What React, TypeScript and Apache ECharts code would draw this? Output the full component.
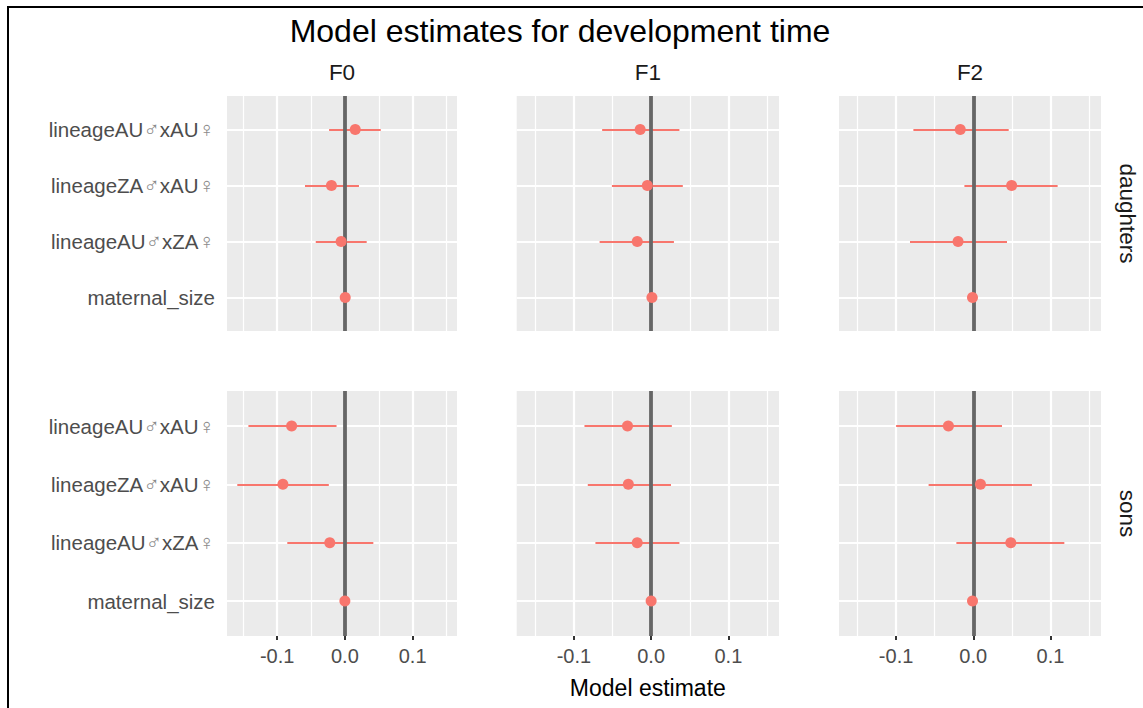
import React, { useEffect, useRef } from "react";
import * as echarts from "echarts";

// ---- data ----
const title = "Model estimates for development time";
const generations = ["F0", "F1", "F2"];
const sexes = ["daughters", "sons"];
const categories = ["lineageAU♂xAU♀", "lineageZA♂xAU♀", "lineageAU♂xZA♀", "maternal_size"]; // top to bottom
const xTicks = [-0.1, 0, 0.1];
const xMinorTicks = [-0.15, -0.05, 0.05, 0.15];
const xTitle = "Model estimate";

// estimates / lower / upper, order follows categories
const daughtersF0Est = [0.0153, -0.0198, -0.0055, 0.0005];
const daughtersF0Lo = [-0.0233, -0.0589, -0.043, 0.0];
const daughtersF0Hi = [0.053, 0.0208, 0.0322, 0.001];

const daughtersF1Est = [-0.0142, -0.0049, -0.018, 0.001];
const daughtersF1Lo = [-0.0634, -0.0508, -0.0667, 0.0];
const daughtersF1Hi = [0.0366, 0.041, 0.0295, 0.002];

const daughtersF2Est = [-0.0169, 0.0497, -0.0197, -0.001];
const daughtersF2Lo = [-0.0776, -0.0115, -0.082, -0.002];
const daughtersF2Hi = [0.0459, 0.1093, 0.0437, 0.0];

const sonsF0Est = [-0.0786, -0.0915, -0.0223, 0.0];
const sonsF0Lo = [-0.1424, -0.1588, -0.085, -0.001];
const sonsF0Hi = [-0.0123, -0.0237, 0.042, 0.001];

const sonsF1Est = [-0.0306, -0.0295, -0.018, 0.0];
const sonsF1Lo = [-0.0863, -0.082, -0.0721, -0.001];
const sonsF1Hi = [0.0268, 0.0257, 0.0366, 0.001];

const sonsF2Est = [-0.0322, 0.0093, 0.0486, -0.001];
const sonsF2Lo = [-0.1, -0.0579, -0.0219, -0.002];
const sonsF2Hi = [0.0372, 0.076, 0.118, 0.0];

const panels = [
  [daughtersF0Est, daughtersF0Lo, daughtersF0Hi],
  [daughtersF1Est, daughtersF1Lo, daughtersF1Hi],
  [daughtersF2Est, daughtersF2Lo, daughtersF2Hi],
  [sonsF0Est, sonsF0Lo, sonsF0Hi],
  [sonsF1Est, sonsF1Lo, sonsF1Hi],
  [sonsF2Est, sonsF2Lo, sonsF2Hi],
];

// ---- layout ----
const W = 1143;
const H = 708;
const colLeft = [227, 516.7, 839];
const colWidth = [230, 262.3, 262];
const rowTop = [96, 391];
const rowHeight = [235, 245];
const X_MIN = -0.174;
const X_MAX = 0.1655;

const FONT = "'Liberation Sans', Arial, sans-serif";
const POINT = "#F8766D";

const yPos = (i: number) => categories.length - i;

// wrap the sex symbols in a rich-text style of their own
const richLabel = (s: string) =>
  s
    .split(/([♂♀])/)
    .filter((p) => p.length > 0)
    .map((p) => (p === "♂" || p === "♀" ? `{s|${p}}` : `{a|${p}}`))
    .join("");

const baseMarkLine = {
  silent: true,
  symbol: ["none", "none"],
  label: { show: false },
  emphasis: { disabled: true },
  animation: false,
};

export default function App() {
  const ref = useRef<HTMLDivElement>(null);

  useEffect(() => {
    if (!ref.current) return;
    const chart = echarts.init(ref.current, undefined, { renderer: "svg" });

    const grid: any[] = [];
    const xAxis: any[] = [];
    const yAxis: any[] = [];
    const series: any[] = [];

    for (let r = 0; r < 2; r++) {
      for (let c = 0; c < 3; c++) {
        const k = r * 3 + c;
        grid.push({
          left: colLeft[c],
          top: rowTop[r],
          width: colWidth[c],
          height: rowHeight[r],
          show: true,
          backgroundColor: "#EBEBEB",
          borderWidth: 0,
        });
        const bottom = r === 1;
        xAxis.push({
          type: "value",
          gridIndex: k,
          min: X_MIN,
          max: X_MAX,
          axisLine: { show: false },
          splitLine: { show: false },
          axisTick: {
            show: bottom,
            customValues: xTicks,
            length: 4,
            lineStyle: { color: "#333333", width: 2 },
          },
          axisLabel: {
            show: bottom,
            customValues: xTicks,
            formatter: (v: number) => v.toFixed(1),
            fontSize: 20,
            color: "#4D4D4D",
            fontFamily: FONT,
            margin: 10,
          },
        });
        yAxis.push({
          type: "value",
          gridIndex: k,
          min: 0.4,
          max: 4.6,
          axisLine: { show: false },
          splitLine: { show: false },
          axisTick: { show: false },
          axisLabel: {
            show: c === 0,
            customValues: categories.map((_, i) => yPos(i)),
            formatter: (v: number) => {
              const idx = categories.length - Math.round(v);
              return richLabel(categories[idx] ?? "");
            },
            margin: 12,
            rich: {
              a: { fontSize: 20.5, color: "#4D4D4D", fontFamily: FONT },
              s: {
                fontSize: 22,
                color: "#8A8A8A",
                fontFamily: "'DejaVu Sans'",
                fontWeight: 200,
              },
            },
          },
        });

        const [est, lo, hi] = panels[k];

        // grid lines
        series.push({
          type: "line",
          xAxisIndex: k,
          yAxisIndex: k,
          data: [],
          z: 1,
          silent: true,
          markLine: {
            ...baseMarkLine,
            z: 1,
            data: [
              ...xMinorTicks.map((v) => ({ xAxis: v, lineStyle: { color: "#FFFFFF", width: 1.2, type: "solid" } })),
              ...xTicks.map((v) => ({ xAxis: v, lineStyle: { color: "#FFFFFF", width: 2.2, type: "solid" } })),
              ...categories.map((_, i) => ({ yAxis: yPos(i), lineStyle: { color: "#FFFFFF", width: 2.2, type: "solid" } })),
            ],
          },
        });

        // error bars
        series.push({
          type: "line",
          xAxisIndex: k,
          yAxisIndex: k,
          data: [],
          z: 2,
          silent: true,
          markLine: {
            ...baseMarkLine,
            z: 2,
            lineStyle: { color: POINT, width: 2, type: "solid" },
            data: categories.map((_, i) => [
              { coord: [lo[i], yPos(i)] },
              { coord: [hi[i], yPos(i)] },
            ]),
          },
        });

        // zero line
        series.push({
          type: "line",
          xAxisIndex: k,
          yAxisIndex: k,
          data: [],
          z: 3,
          silent: true,
          markLine: {
            ...baseMarkLine,
            z: 3,
            data: [{ xAxis: 0, lineStyle: { color: "#666666", width: 3.8, type: "solid" } }],
          },
        });

        // points
        series.push({
          type: "scatter",
          xAxisIndex: k,
          yAxisIndex: k,
          z: 10,
          symbol: "circle",
          symbolSize: 11,
          itemStyle: { color: POINT, opacity: 1 },
          data: categories.map((_, i) => [est[i], yPos(i)]),
        });
      }
    }

    const graphic: any[] = [
      {
        type: "rect",
        shape: { x: 8, y: 7, width: 1300, height: 900 },
        style: { fill: "none", stroke: "#000000", lineWidth: 2 },
        silent: true,
      },
      {
        type: "text",
        x: 560,
        y: 31,
        style: {
          text: title,
          fontSize: 32,
          fontFamily: FONT,
          fill: "#000000",
          align: "center",
          verticalAlign: "middle",
        },
      },
      ...generations.map((g, c) => ({
        type: "text",
        x: colLeft[c] + colWidth[c] / 2,
        y: 72,
        style: {
          text: g,
          fontSize: 22.5,
          fontFamily: FONT,
          fill: "#1A1A1A",
          align: "center",
          verticalAlign: "middle",
        },
      })),
      ...sexes.map((s, r) => ({
        type: "text",
        x: 1127,
        y: rowTop[r] + rowHeight[r] / 2,
        rotation: -Math.PI / 2,
        style: {
          text: s,
          fontSize: 22.5,
          fontFamily: FONT,
          fill: "#1A1A1A",
          align: "center",
          verticalAlign: "middle",
        },
      })),
      {
        type: "text",
        x: colLeft[1] + colWidth[1] / 2,
        y: 688,
        style: {
          text: xTitle,
          fontSize: 23,
          fontFamily: FONT,
          fill: "#000000",
          align: "center",
          verticalAlign: "middle",
        },
      },
    ];

    chart.setOption({
      animation: false,
      backgroundColor: "#FFFFFF",
      textStyle: { fontFamily: FONT },
      grid,
      xAxis,
      yAxis,
      series,
      graphic,
    });

    return () => chart.dispose();
  }, []);

  return (
    <div
      ref={ref}
      style={{ position: "absolute", left: 0, top: 0, width: W, height: H }}
    />
  );
}
